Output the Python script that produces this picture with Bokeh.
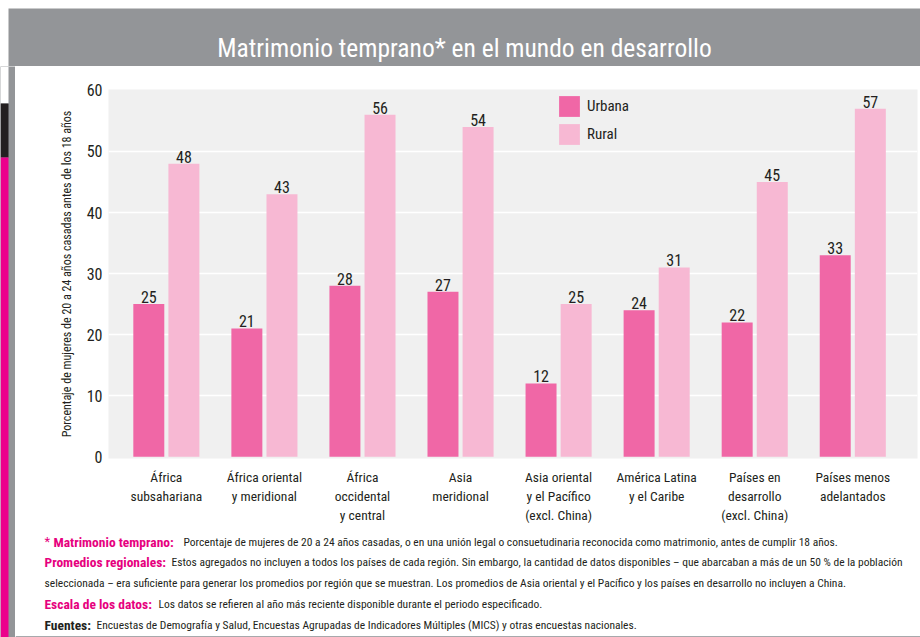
from bokeh.plotting import figure
from bokeh.models import (ColumnDataSource, Range1d, FixedTicker, Legend, LegendItem,
                          BoxAnnotation)
from bokeh.layouts import column, row
from bokeh.transform import dodge
from bokeh.core.properties import value
from bokeh.embed import file_html
from bokeh.resources import INLINE

# ---------------- data ----------------
categories = ["África\nsubsahariana", "África oriental\ny meridional",
              "África\noccidental\ny central", "Asia\nmeridional",
              "Asia oriental\ny el Pacífico\n(excl. China)", "América Latina\ny el Caribe",
              "Países en\ndesarrollo\n(excl. China)", "Países menos\nadelantados"]
urbana = [25, 21, 28, 27, 12, 24, 22, 33]
rural = [48, 43, 56, 54, 25, 31, 45, 57]
y_ticks = [0, 10, 20, 30, 40, 50, 60]
series_names = ["Urbana", "Rural"]

title_text = "Matrimonio temprano* en el mundo en desarrollo"
y_label = "Porcentaje de mujeres de 20 a 24 años casadas antes de los 18 años"
note_heads = ["Matrimonio temprano:", "Promedios regionales:", "", "Escala de los datos:", "Fuentes:"]
note_bodies = [
    "Porcentaje de mujeres de 20 a 24 años casadas, o en una unión legal o consuetudinaria reconocida como matrimonio, antes de cumplir 18 años.",
    "Estos agregados no incluyen a todos los países de cada región. Sin embargo, la cantidad de datos disponibles  – que abarcaban a más de un 50 % de la población",
    "seleccionada – era suficiente para generar los promedios por región que se muestran. Los promedios de Asia oriental y el Pacífico y los países en desarrollo no incluyen a China.",
    "Los datos se refieren al año más reciente disponible durante el periodo especificado.",
    "Encuestas de Demografía y Salud, Encuestas Agrupadas de Indicadores Múltiples (MICS) y otras encuestas nacionales.",
]

# ---------------- style ----------------
FONT = "Roboto Condensed, DejaVu Sans Condensed, sans-serif"
C_URB = "#F067A6"
C_RUR = "#F7B8D3"
C_TXT = "#231F20"
C_MAG = "#E6007E"
C_STRIP = "#EC008C"
C_DARK = "#231F20"
C_GRAY = "#939598"


def blank(w, h, bg, xr=None, yr=None):
    f = figure(width=w, height=h, output_backend="svg", toolbar_location=None,
               x_range=xr or Range1d(0, 1), y_range=yr or Range1d(0, 1),
               x_axis_type=None, y_axis_type=None,
               min_border=0, min_border_left=0, min_border_right=0,
               min_border_top=0, min_border_bottom=0)
    f.background_fill_color = bg
    f.border_fill_color = bg
    f.outline_line_color = None
    f.grid.visible = False
    return f


def box(f, l, r, t, b, color):
    f.add_layout(BoxAnnotation(left=l, right=r, top=t, bottom=b, fill_color=color,
                               fill_alpha=1, line_color=None, line_alpha=0,
                               level="underlay"))


# ---------------- title bar (y 0-66) ----------------
tp = blank(912, 58, C_GRAY, Range1d(0, 912), Range1d(58, 0))
tp.text(x=[456], y=[39], text=[title_text], text_align="center", text_baseline="alphabetic",
        text_color="white", text_font=value(FONT), text_font_size="25.5px")
top_row = row(blank(8, 66, "white"), column(blank(912, 8, "white"), tp, spacing=0), spacing=0)

# ---------------- left strips (y 66-637) ----------------
strip = blank(15, 571, C_GRAY, Range1d(0, 15), Range1d(571, 0))
box(strip, 0, 8, 0, 37, "white")
box(strip, 0, 8, 37, 91, C_DARK)
box(strip, 0, 8, 91, 571, C_STRIP)

# ---------------- main chart ----------------
idx = list(range(len(categories)))
src = ColumnDataSource(dict(x=idx, urbana=urbana, rural=rural,
                            lu=[str(v) for v in urbana], lr=[str(v) for v in rural]))

p = figure(width=905, height=459, output_backend="svg", toolbar_location=None,
           x_range=Range1d(-0.59, 7.66), y_range=Range1d(-0.3, 60.15),
           min_border_left=93, min_border_right=3, min_border_top=23, min_border_bottom=58)
p.background_fill_color = "#F0F0F0"
p.border_fill_color = "white"
p.outline_line_color = None

W = 0.316
OFF = 0.179
r_u = p.vbar(x=dodge("x", -OFF), top="urbana", bottom=0, width=W, source=src,
             fill_color=C_URB, line_color=None)
r_r = p.vbar(x=dodge("x", OFF), top="rural", bottom=0, width=W, source=src,
             fill_color=C_RUR, line_color=None)

for col, lab, off in (("urbana", "lu", -OFF), ("rural", "lr", OFF)):
    p.text(x=dodge("x", off), y=col, text=lab, source=src, text_align="center",
           text_baseline="bottom", y_offset=-1, text_font=value(FONT),
           text_font_size="16px", text_color=C_TXT)

p.xaxis.ticker = FixedTicker(ticks=idx)
p.xaxis.major_label_overrides = {i: c for i, c in enumerate(categories)}
p.xaxis.major_label_text_font = FONT
p.xaxis.major_label_text_font_size = "13.5px"
p.xaxis.major_label_text_line_height = 1.2
p.xaxis.major_label_text_color = C_TXT
p.xaxis.major_label_standoff = 4
p.xaxis.axis_line_color = None
p.xaxis.major_tick_line_color = None
p.xaxis.minor_tick_line_color = None

p.yaxis.ticker = FixedTicker(ticks=y_ticks)
p.yaxis.major_label_text_font = FONT
p.yaxis.major_label_text_font_size = "16px"
p.yaxis.major_label_text_color = C_TXT
p.yaxis.major_label_standoff = 0
p.yaxis.axis_line_color = None
p.yaxis.major_tick_line_color = None
p.yaxis.minor_tick_line_color = None
p.yaxis.axis_label = y_label
p.yaxis.axis_label_text_font = FONT
p.yaxis.axis_label_text_font_size = "12px"
p.yaxis.axis_label_text_font_style = "normal"
p.yaxis.axis_label_text_color = C_TXT
p.yaxis.axis_label_standoff = 10

p.xgrid.grid_line_color = None
p.ygrid.ticker = FixedTicker(ticks=y_ticks[1:-1])
p.ygrid.grid_line_color = "white"
p.ygrid.grid_line_width = 1.5

legend = Legend(items=[LegendItem(label=series_names[0], renderers=[r_u]),
                       LegendItem(label=series_names[1], renderers=[r_r])],
                location=(448, 311), glyph_width=26, glyph_height=26, spacing=2,
                padding=0, margin=0, label_standoff=5, background_fill_alpha=0,
                border_line_alpha=0, label_text_font=FONT, label_text_font_size="15px",
                label_text_color=C_TXT)
p.add_layout(legend)

# ---------------- footnotes ----------------
npf = blank(905, 112, "white", Range1d(0, 905), Range1d(112, 0))
line_y = [16, 36, 57, 78, 99]
head_x = [38, 29, 29, 29, 29]
body_x = [168, 156, 29, 143, 81]
npf.text(x=[29], y=[line_y[0]], text=["*"], text_align="left", text_baseline="middle",
         text_color=C_MAG, text_font=value(FONT), text_font_size="13px")
for head, body, y, hx, bx in zip(note_heads, note_bodies, line_y, head_x, body_x):
    if head:
        npf.text(x=[hx], y=[y], text=[head], text_align="left", text_baseline="middle",
                 text_color=C_TXT if head == "Fuentes:" else C_MAG,
                 text_font=value(FONT), text_font_size="13.5px", text_font_style="bold")
    npf.text(x=[bx], y=[y], text=[body], text_align="left", text_baseline="middle",
             text_color=C_TXT, text_font=value(FONT), text_font_size="11.5px")
box(npf, 0, 905, 110.5, 112, "#A7A9AC")

layout = column(top_row, row(strip, column(p, row(npf), spacing=0), spacing=0), spacing=0)
open("out.html", "w").write(file_html(layout, INLINE))
